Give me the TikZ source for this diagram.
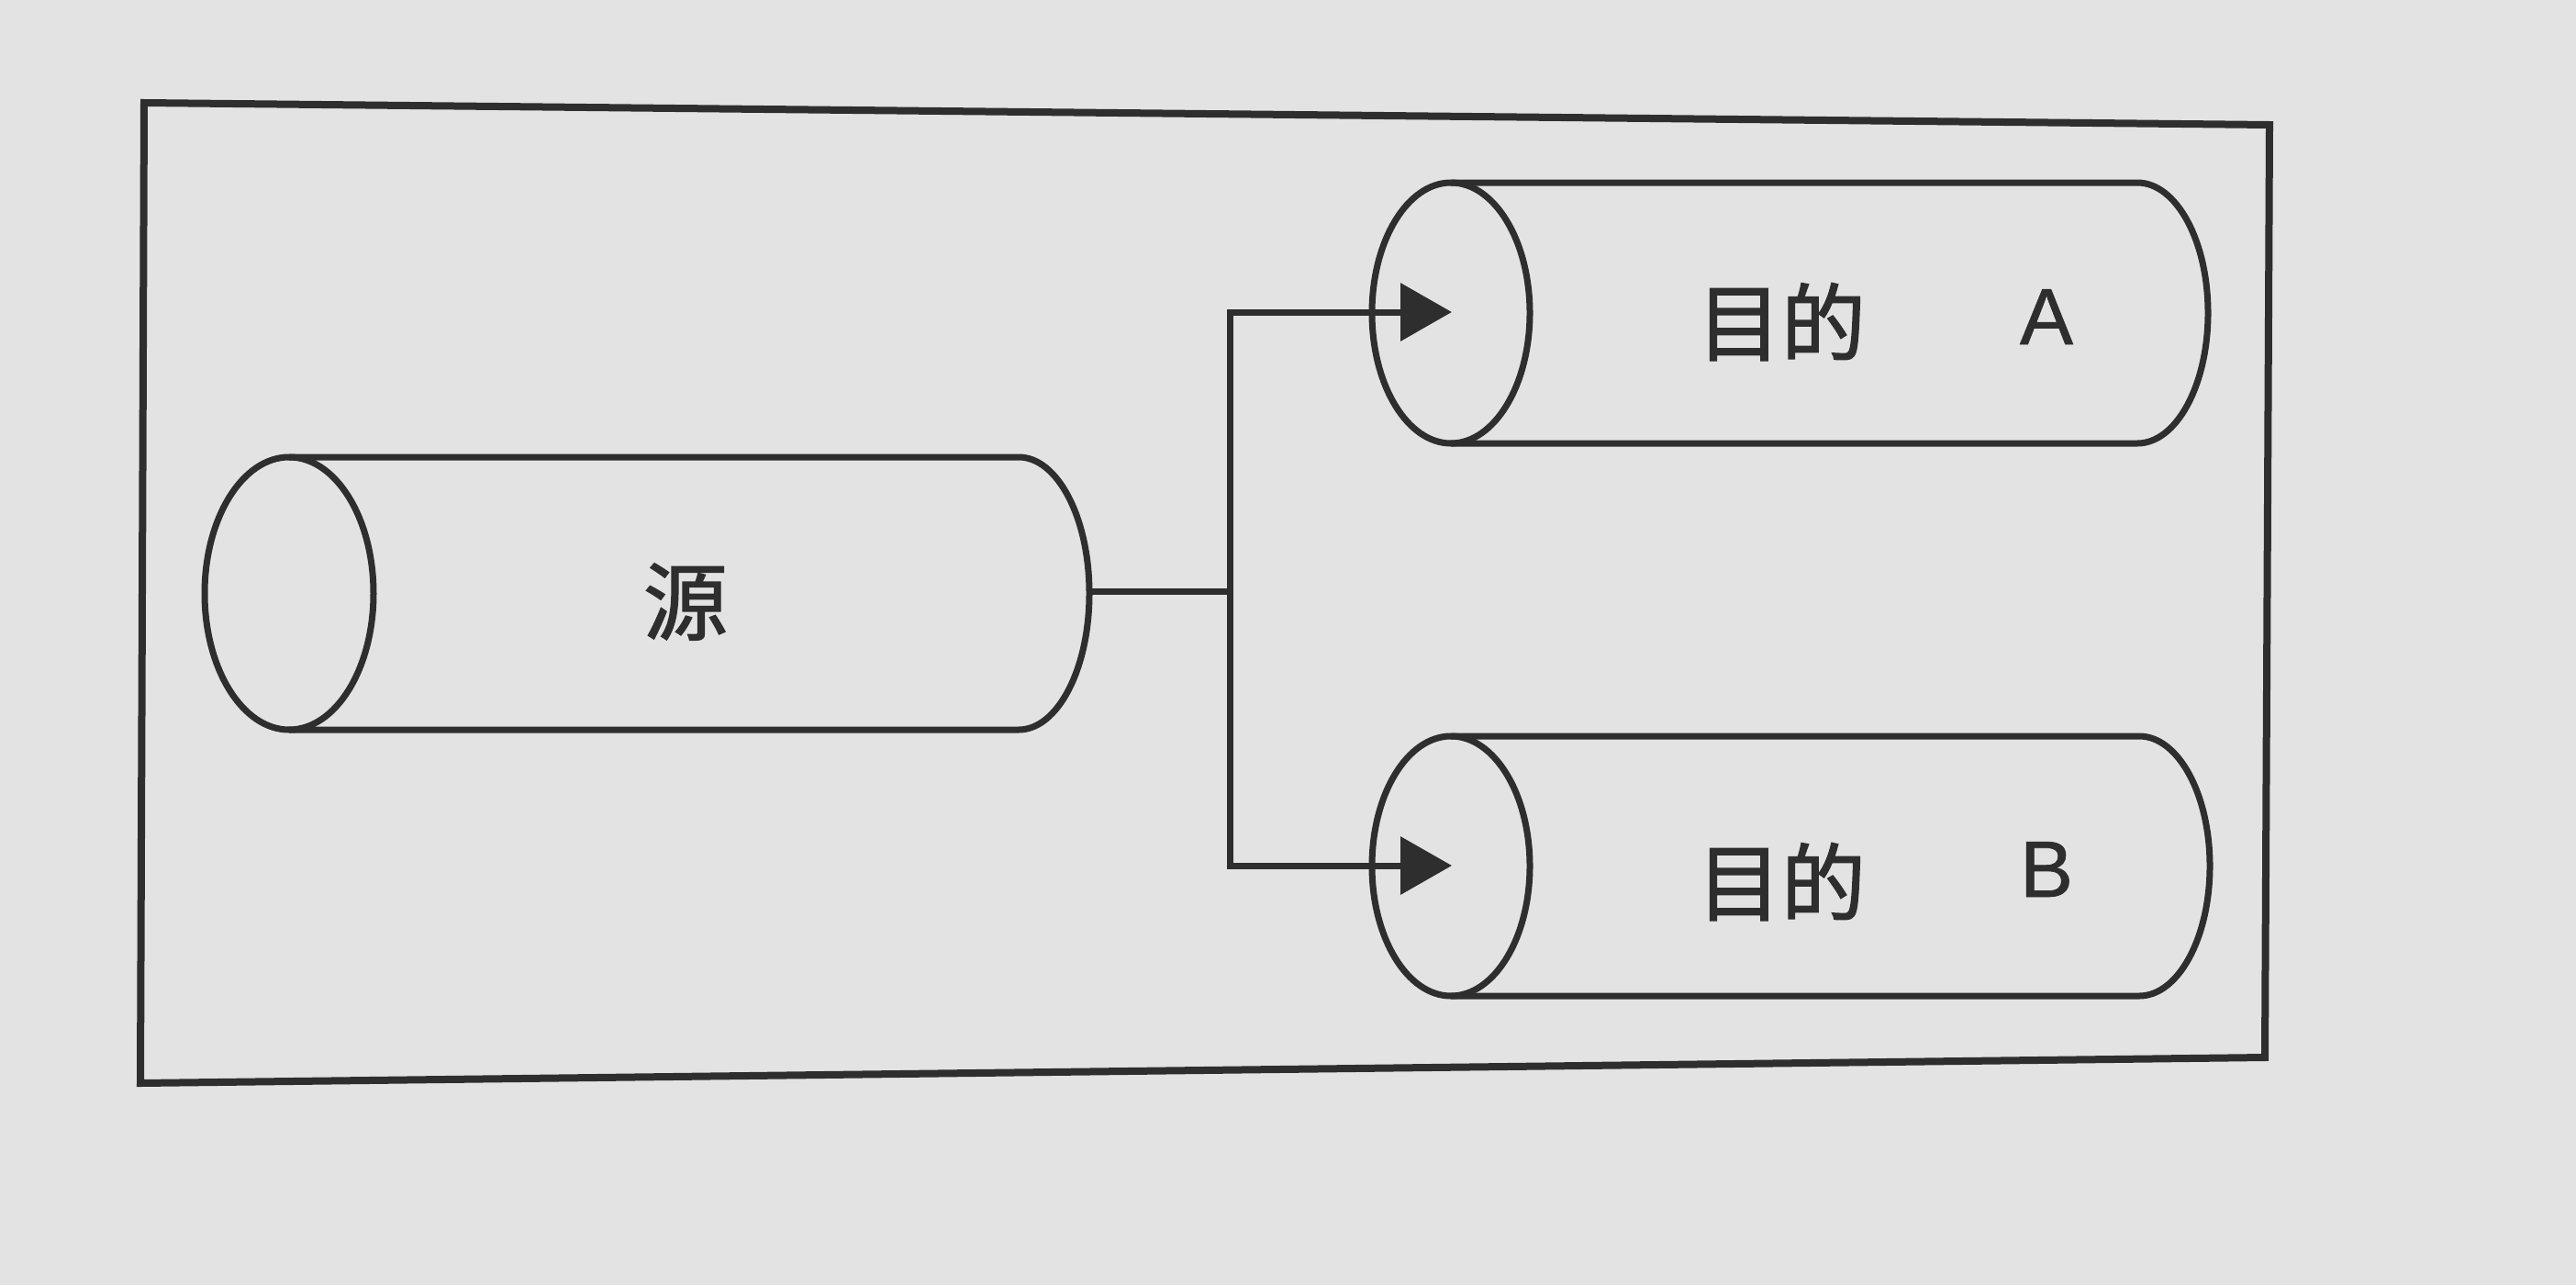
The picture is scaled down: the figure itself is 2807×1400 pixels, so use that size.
\documentclass[tikz,border=0pt]{standalone}
\usepackage{fontspec}
\setmainfont{Liberation Sans}[FakeBold=0.8]
\newfontfamily\cjk{Noto Sans CJK SC}[FakeBold=1.6]
\usetikzlibrary{arrows.meta}
\definecolor{ink}{HTML}{2E2E2E}
\definecolor{paper}{HTML}{E3E3E3}
\newcommand\cylshape[6]{% #1 left x, #2 right x, #3 centre y, #4 left rx, #5 right rx, #6 ry
  \draw[cylline] (#1,#3) ellipse [x radius=#4, y radius=#6];
  \draw[cylline] (#1,#3-#6) -- (#2,#3-#6)
     arc[start angle=-90,end angle=90,x radius=#5,y radius=#6] -- (#1,#3+#6);
}
\begin{document}
\begin{tikzpicture}[x=1pt,y=-1pt,
  cylline/.style={draw=ink,line width=7pt,line join=round},
  frameline/.style={draw=ink,line width=8pt,line join=miter},
  conn/.style={draw=ink,line width=7pt},
  tipped/.style={-{Triangle[length=56pt,width=62pt]}},
  cjklabel/.style={font=\cjk\fontsize{92}{100}\selectfont,text=ink,inner sep=0pt,anchor=base},
  latlabel/.style={font=\fontsize{87}{100}\selectfont,text=ink,inner sep=0pt,anchor=base}
]
\fill[paper] (0,0) rectangle (2807,1400);
\useasboundingbox (0,0) rectangle (2807,1400);

% outer frame
\coordinate (fTL) at (157,112);
\coordinate (fTR) at (2473,136);
\coordinate (fBR) at (2468,1152);
\coordinate (fBL) at (153,1180);
\draw[frameline] (fTL) -- (fTR) -- (fBR) -- (fBL) -- cycle;

% cylinders
\cylshape{315}{1110}{646.5}{92}{77}{148.5}
\cylshape{1581}{2329}{341}{86}{77}{142}
\cylshape{1581}{2331}{943.5}{86}{77}{141.5}

% labels
\node[cjklabel] (src) at (747,690) {源};
\node[cjklabel] (dA) at (1941,386) {目的};
\node[latlabel] (lA) at (2230,375) {A};
\node[cjklabel] (dB) at (1941,996) {目的};
\node[latlabel] (lB) at (2230,977) {B};

% connectors
\coordinate (srcout) at (1187,644);
\coordinate (split) at (1340,644);
\coordinate (inA) at (1582,340);
\coordinate (inB) at (1582,943);
\draw[conn] (srcout) -- (split);
\draw[conn,tipped] (split) |- (inA);
\draw[conn,tipped] (split) |- (inB);
\end{tikzpicture}
\end{document}
